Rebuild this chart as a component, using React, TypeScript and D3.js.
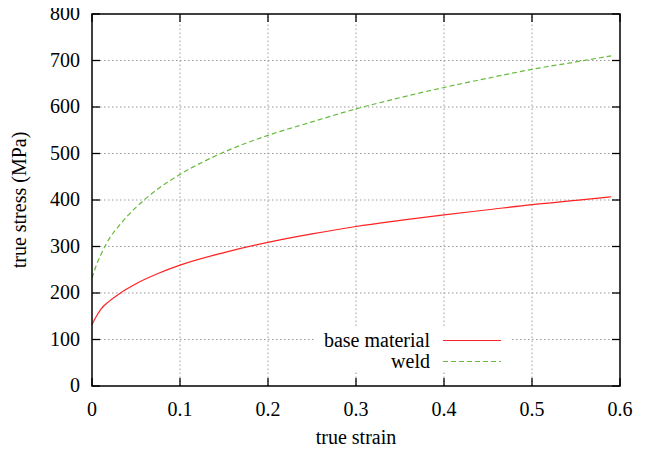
import React from 'react'
import * as d3 from 'd3'

// values
const strain = [0, 0.005, 0.01, 0.02, 0.03, 0.04, 0.05, 0.075, 0.1, 0.15, 0.2, 0.25, 0.3, 0.35, 0.4, 0.45, 0.5, 0.55, 0.59]
const baseMaterial = [132, 150, 165, 183, 197, 209, 220, 242, 260, 287, 309, 327, 343, 356, 368, 379, 390, 399, 407]
const weld = [232, 260, 282, 318, 343, 365, 384, 424, 455, 503, 539, 568, 596, 620, 642, 662, 681, 697, 710]

const xTicks = [0, 0.1, 0.2, 0.3, 0.4, 0.5, 0.6]
const yTicks = [0, 100, 200, 300, 400, 500, 600, 700, 800]

const seriesNames = ['base material', 'weld']
const seriesColors = ['#ff2222', '#66bb3c']

const W = 648, H = 454
const margin = {top: 14, right: 28, bottom: 68, left: 92}
const txt = {fontFamily: "'Liberation Serif', 'DejaVu Serif', 'Times New Roman', serif", fontSize: 20}

export default function App() {
    const x = d3.scaleLinear().domain([0, 0.6]).range([margin.left, W - margin.right])
    const y = d3.scaleLinear().domain([0, 800]).range([H - margin.bottom, margin.top])

    const line = d3.line<number>()
        .x((d, i) => x(strain[i]))
        .y(d => y(d))
        .curve(d3.curveMonotoneX)

    const x0 = x(0), x1 = x(0.6), y0 = y(0), y1 = y(800)
    const tick = 8

    // legend box (opaque, like gnuplot's key)
    const keyRight = 512, keyTop = 327, keyBottom = 372, keyLeft = 314
    const keyLineX0 = 443, keyLineX1 = 501
    const keyRows = [340.5, 361.5]

    return (
        <div style={{margin: -8}}>
            <svg width={W} height={H} style={{display: 'block', background: '#fff'}}>
                {/* grid */}
                <g stroke="#999" strokeWidth={1} strokeDasharray="1.5,2.5">
                    {xTicks.slice(1, -1).map(t => (
                        <line key={'gx' + t} x1={x(t)} x2={x(t)} y1={y0} y2={y1} />
                    ))}
                    {yTicks.slice(1, -1).map(t => (
                        <line key={'gy' + t} x1={x0} x2={x1} y1={y(t)} y2={y(t)} />
                    ))}
                </g>

                {/* key background hides the grid behind it */}
                <rect x={keyLeft} y={keyTop} width={keyRight - keyLeft} height={keyBottom - keyTop} fill="#fff" />

                {/* ticks on all four sides */}
                <g stroke="#000" strokeWidth={1.3}>
                    {xTicks.map(t => (
                        <g key={'tx' + t}>
                            <line x1={x(t)} x2={x(t)} y1={y0} y2={y0 - tick} />
                            <line x1={x(t)} x2={x(t)} y1={y1} y2={y1 + tick} />
                        </g>
                    ))}
                    {yTicks.map(t => (
                        <g key={'ty' + t}>
                            <line x1={x0} x2={x0 + tick} y1={y(t)} y2={y(t)} />
                            <line x1={x1} x2={x1 - tick} y1={y(t)} y2={y(t)} />
                        </g>
                    ))}
                </g>

                {/* curves */}
                <path d={line(baseMaterial) || ''} fill="none" stroke={seriesColors[0]} strokeWidth={1.2} />
                <path d={line(weld) || ''} fill="none" stroke={seriesColors[1]} strokeWidth={1.2} strokeDasharray="5,3" />

                {/* frame */}
                <rect x={x0} y={y1} width={x1 - x0} height={y0 - y1} fill="none" stroke="#000" strokeWidth={1.5} />

                {/* tick labels */}
                <g style={txt} fill="#000">
                    {xTicks.map(t => (
                        <text key={'lx' + t} x={x(t)} y={y0 + 30} textAnchor="middle">{t === 0 ? '0' : t.toFixed(1)}</text>
                    ))}
                    {yTicks.map(t => (
                        <text key={'ly' + t} x={x0 - 12} y={y(t) + 6} textAnchor="end">{t}</text>
                    ))}
                </g>

                {/* axis titles */}
                <text x={(x0 + x1) / 2} y={444} textAnchor="middle" style={txt}>true strain</text>
                <text transform={`translate(26,${(y0 + y1) / 2}) rotate(-90)`} textAnchor="middle" style={txt}>true stress (MPa)</text>

                {/* key */}
                {seriesNames.map((name, i) => (
                    <g key={name}>
                        <text x={430} y={keyRows[i] + 6} textAnchor="end" style={txt}>{name}</text>
                        <line x1={keyLineX0} x2={keyLineX1} y1={keyRows[i]} y2={keyRows[i]}
                            stroke={seriesColors[i]} strokeWidth={1.2} strokeDasharray={i === 1 ? '5,3' : undefined} />
                    </g>
                ))}
            </svg>
        </div>
    )
}
